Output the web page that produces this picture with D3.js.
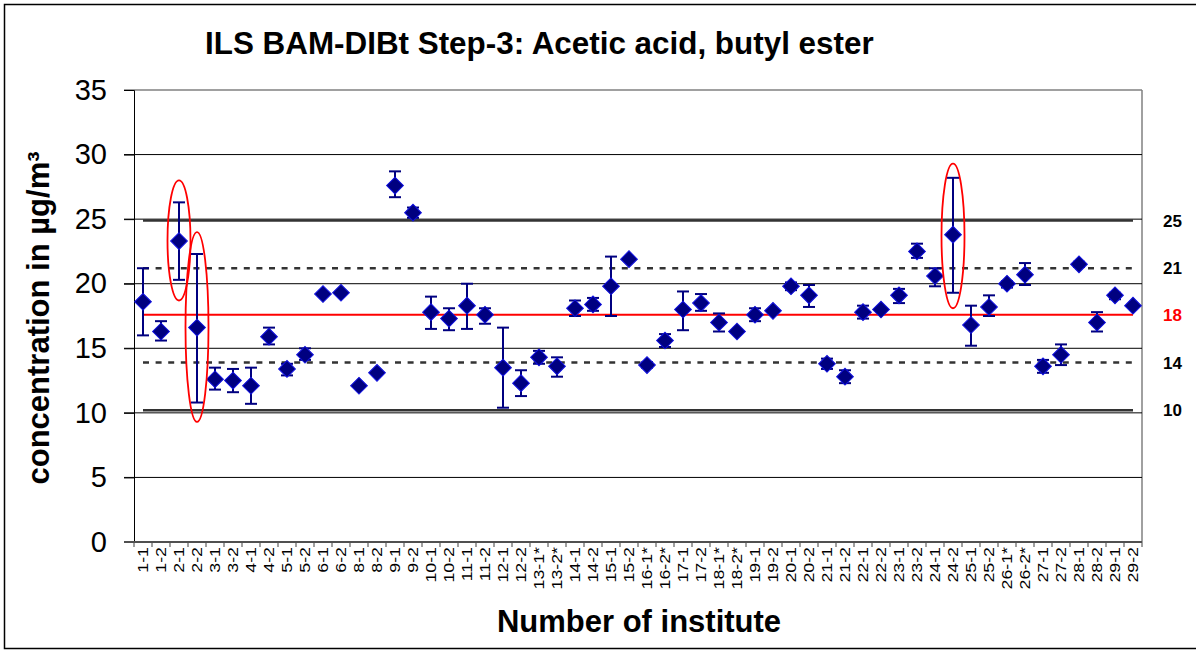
<!DOCTYPE html>
<html>
<head>
<meta charset="utf-8">
<script src="https://cdn.jsdelivr.net/npm/d3@7/dist/d3.min.js"></script>
<style>
  html, body { margin: 0; padding: 0; background: #fff; }
  svg { display: block; }
  svg text { font-family: "Liberation Sans", Arial, Helvetica, sans-serif; }
</style>
</head>
<body>
<svg id="chart" width="1196" height="651"></svg>
<script>
// Sample codes (institute-sample)
const categories = [
  "1-1","1-2","2-1","2-2","3-1","3-2","4-1","4-2","5-1","5-2","6-1","6-2",
  "8-1","8-2","9-1","9-2","10-1","10-2","11-1","11-2","12-1","12-2",
  "13-1*","13-2*","14-1","14-2","15-1","15-2","16-1*","16-2*","17-1","17-2",
  "18-1*","18-2*","19-1","19-2","20-1","20-2","21-1","21-2","22-1","22-2",
  "23-1","23-2","24-1","24-2","25-1","25-2","26-1*","26-2*","27-1","27-2",
  "28-1","28-2","29-1","29-2"
];
// Mean concentration per sample (µg/m³)
const means = [
  18.6,16.3,23.3,16.6,12.6,12.5,12.1,15.9,13.4,14.5,19.2,19.3,
  12.1,13.1,27.6,25.5,17.8,17.3,18.3,17.6,13.5,12.3,
  14.3,13.6,18.1,18.4,19.8,21.9,13.7,15.6,18.0,18.5,
  17.0,16.3,17.6,17.9,19.8,19.1,13.8,12.8,17.8,18.0,
  19.1,22.5,20.6,23.8,16.8,18.2,20.0,20.7,13.6,14.5,
  21.5,17.0,19.1,18.3
];
// Lower / upper ends of the error bars
const errLow = [
  16.0,15.6,20.3,10.8,11.8,11.6,10.7,15.3,12.9,14.1,19.2,19.3,
  12.1,13.1,26.7,25.1,16.5,16.4,16.5,16.9,10.4,11.3,
  13.8,12.8,17.5,17.9,17.5,21.9,13.5,15.1,16.4,17.9,
  16.3,16.3,17.1,17.9,19.5,18.2,13.4,12.3,17.3,18.0,
  18.5,22.0,19.8,19.3,15.2,17.5,19.7,19.9,13.1,13.7,
  21.3,16.3,18.8,18.3
];
const errHigh = [
  21.2,17.1,26.3,22.3,13.5,13.4,13.5,16.6,13.8,15.0,19.2,19.3,
  12.1,13.1,28.7,25.9,19.0,18.1,20.0,18.1,16.6,13.3,
  14.8,14.3,18.7,18.9,22.1,21.9,13.9,16.1,19.4,19.2,
  17.7,16.3,18.1,17.9,20.1,19.9,14.2,13.3,18.3,18.0,
  19.6,23.1,21.2,28.2,18.3,19.1,20.2,21.6,14.1,15.3,
  21.7,17.8,19.3,18.3
];
// Horizontal reference levels (assigned value and limits)
const refValues = [24.9, 21.2, 17.6, 13.9, 10.2];
const refKinds  = ["limit", "warn", "mean", "warn", "limit"];
// Flagged samples and the value span each marking ring encloses
const flaggedCats   = ["2-1", "2-2", "24-2"];
const flaggedTop    = [28.0, 24.0, 29.3];
const flaggedBottom = [18.7, 9.3, 18.1];
const yTicks = [0, 5, 10, 15, 20, 25, 30, 35];

const FONT = "'Liberation Sans', Arial, Helvetica, sans-serif";
const svg = d3.select("#chart");
const plotL = 134, plotR = 1142, plotT = 90, plotB = 542;

const x = d3.scaleBand().domain(categories).range([plotL, plotR]).padding(0);
const y = d3.scaleLinear().domain([0, 35]).range([plotB, plotT]);
const cx = c => x(c) + x.bandwidth() / 2;

// outer frame
svg.append("rect").attr("x", 4.5).attr("y", 4.5).attr("width", 1200).attr("height", 644)
  .attr("fill", "none").attr("stroke", "#000").attr("stroke-width", 1.5);

// plot area border (right)
svg.append("line").attr("x1", plotR).attr("x2", plotR).attr("y1", plotT).attr("y2", plotB)
  .attr("stroke", "#808080").attr("stroke-width", 1.5);

// gridlines
svg.append("g").selectAll("line").data(yTicks.filter(t => t > 0)).join("line")
  .attr("x1", plotL - 10).attr("x2", plotR)
  .attr("y1", d => y(d)).attr("y2", d => y(d))
  .attr("stroke", d => d === 35 ? "#808080" : "#000")
  .attr("stroke-width", d => d === 35 ? 1.5 : 1);

// y axis
const yAxis = svg.append("g").attr("transform", `translate(${plotL},0)`)
  .call(d3.axisLeft(y).tickValues(yTicks).tickSize(10).tickPadding(17));
yAxis.attr("font-family", FONT);
yAxis.select(".domain").attr("stroke", "#000").attr("stroke-width", 1);
yAxis.selectAll(".tick line").attr("stroke", "#000");
yAxis.selectAll(".tick text").attr("font-size", 29).attr("fill", "#000")
  .attr("font-family", FONT);

// x axis labels (rotated, slightly stretched along the text direction)
const xAxis = svg.append("g").attr("transform", `translate(0,${plotB})`)
  .call(d3.axisBottom(x).tickSize(0).tickPadding(0));
xAxis.attr("font-family", FONT);
xAxis.select(".domain").remove();
xAxis.selectAll(".tick text")
  .attr("font-size", 14).attr("fill", "#000")
  .attr("font-family", FONT)
  .attr("text-anchor", "end")
  .attr("transform", "translate(0,5) rotate(-90) scale(1.27,1)")
  .attr("dx", 0).attr("dy", "0.36em").attr("y", 0).attr("x", 0);
// boundary ticks
const bounds = categories.map(c => x(c)).concat([plotR]);
svg.append("g").selectAll("line").data(bounds).join("line")
  .attr("x1", d => d).attr("x2", d => d).attr("y1", plotB).attr("y2", plotB + 5)
  .attr("stroke", "#404040").attr("stroke-width", 1);
svg.append("line").attr("x1", plotL - 10).attr("x2", plotR).attr("y1", plotB).attr("y2", plotB)
  .attr("stroke", "#505050").attr("stroke-width", 2);

// reference lines
const xFirst = cx(categories[0]), xLast = cx(categories[categories.length - 1]);
svg.append("g").selectAll("line").data(refValues).join("line")
  .attr("x1", xFirst).attr("x2", xLast)
  .attr("y1", d => y(d)).attr("y2", d => y(d))
  .attr("stroke", (d, i) => refKinds[i] === "mean" ? "#ff0000" : "#333")
  .attr("stroke-width", (d, i) => refKinds[i] === "mean" ? 2 : 2.5)
  .attr("stroke-dasharray", (d, i) => refKinds[i] === "warn" ? "6,6.6" : null);

// reference labels
svg.append("g").selectAll("text").data(refValues).join("text")
  .attr("x", 1163).attr("y", d => y(d)).attr("dy", "0.36em")
  .attr("font-family", FONT)
  .attr("font-size", 17).attr("font-weight", "bold")
  .attr("fill", (d, i) => refKinds[i] === "mean" ? "#ff0000" : "#000")
  .text(d => d3.format(".0f")(d));

// error bars
const idx = d3.range(categories.length).filter(i => errHigh[i] - errLow[i] > 0.01);
const eb = svg.append("g").attr("stroke", "#000080").attr("stroke-width", 2);
eb.selectAll("line.v").data(idx).join("line").attr("class", "v")
  .attr("x1", i => cx(categories[i])).attr("x2", i => cx(categories[i]))
  .attr("y1", i => y(errLow[i])).attr("y2", i => y(errHigh[i]));
eb.selectAll("line.lo").data(idx).join("line").attr("class", "lo")
  .attr("x1", i => cx(categories[i]) - 6).attr("x2", i => cx(categories[i]) + 6)
  .attr("y1", i => y(errLow[i])).attr("y2", i => y(errLow[i]));
eb.selectAll("line.hi").data(idx).join("line").attr("class", "hi")
  .attr("x1", i => cx(categories[i]) - 6).attr("x2", i => cx(categories[i]) + 6)
  .attr("y1", i => y(errHigh[i])).attr("y2", i => y(errHigh[i]));

// diamond markers
const diamond = d3.symbol().type(d3.symbolSquare).size(140)();
svg.append("g").selectAll("path").data(means).join("path")
  .attr("d", diamond)
  .attr("transform", (d, i) => `translate(${cx(categories[i])},${y(d)}) rotate(45)`)
  .attr("fill", "#000080").attr("stroke", "#1010e0").attr("stroke-width", 1);

// marking rings around flagged samples
svg.append("g").selectAll("ellipse").data(flaggedCats).join("ellipse")
  .attr("cx", c => cx(c))
  .attr("cy", (c, i) => (y(flaggedTop[i]) + y(flaggedBottom[i])) / 2)
  .attr("rx", 11.5)
  .attr("ry", (c, i) => (y(flaggedBottom[i]) - y(flaggedTop[i])) / 2)
  .attr("fill", "none").attr("stroke", "#ff0000").attr("stroke-width", 1.8);

// titles
svg.append("text").attr("x", 205).attr("y", 54)
  .attr("font-family", FONT)
  .attr("font-size", 31.4).attr("font-weight", "bold").attr("fill", "#000")
  .text("ILS BAM-DIBt Step-3: Acetic acid, butyl ester");
svg.append("text").attr("x", 639).attr("y", 632).attr("text-anchor", "middle")
  .attr("font-family", FONT)
  .attr("font-size", 31).attr("font-weight", "bold").attr("fill", "#000")
  .text("Number of institute");
svg.append("text")
  .attr("transform", "translate(49,318) rotate(-90)")
  .attr("text-anchor", "middle")
  .attr("font-family", FONT)
  .attr("font-size", 31).attr("font-weight", "bold").attr("fill", "#000")
  .text("concentration in µg/m³");
</script>
</body>
</html>
